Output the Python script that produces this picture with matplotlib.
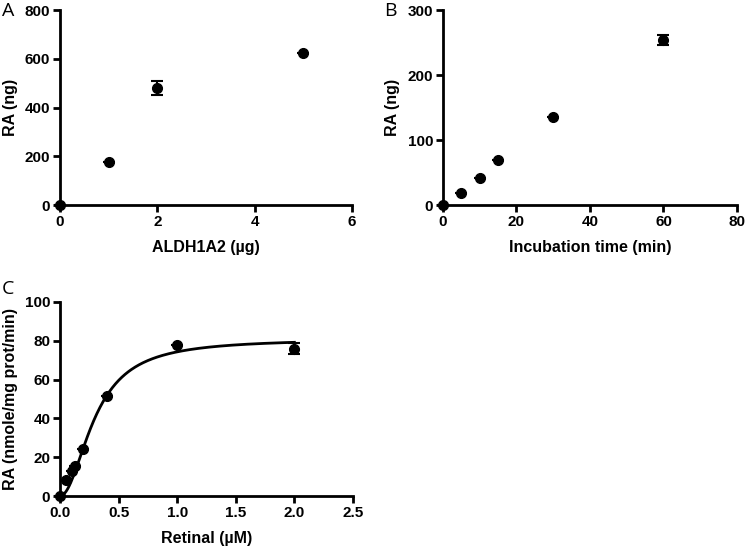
import matplotlib.pyplot as plt
import numpy as np

plt.rcParams['font.family'] = ['Liberation Sans', 'DejaVu Sans']
plt.rcParams['font.weight'] = 'bold'

# panel A
enzyme_ug = [0, 1, 2, 5]
ra_enzyme = [0, 178, 480, 623]
ra_enzyme_err = [0, 0, 30, 0]

# panel B
time_min = [0, 5, 10, 15, 30, 60]
ra_time = [0, 19, 41, 69, 136, 254]
ra_time_err = [0, 0, 0, 0, 0, 8]

# panel C
retinal_uM = [0, 0.05, 0.1, 0.125, 0.2, 0.4, 1.0, 2.0]
ra_rate = [0, 8, 13, 15.5, 24, 51.5, 78, 76]
ra_rate_err = [0, 0, 0, 0, 0, 0, 0, 3]
# Hill fit parameters
vmax, k_half, hill_n = 81, 0.3, 2.0


def style(ax, xlim, ylim, xticks, yticks, xlabel, ylabel, ylab_x, xfmt=None):
    ax.set_xlim(*xlim)
    ax.set_ylim(*ylim)
    ax.set_xticks(xticks)
    ax.set_yticks(yticks)
    if xfmt:
        ax.set_xticklabels([xfmt.format(t) for t in xticks])
    for s in ['top', 'right']:
        ax.spines[s].set_visible(False)
    for s in ['left', 'bottom']:
        ax.spines[s].set_linewidth(2)
    ax.tick_params(width=2, length=5, labelsize=11, pad=2)
    ax.set_xlabel(xlabel, fontsize=11.5, fontweight='bold', labelpad=8)
    ax.set_ylabel(ylabel, fontsize=11.5, fontweight='bold')
    ax.yaxis.set_label_coords(ylab_x, 0.5)


fig = plt.figure(figsize=(7.45, 5.47), dpi=100)

axA = fig.add_axes([0.0805, 0.6252, 0.392, 0.3565])
axA.errorbar(enzyme_ug, ra_enzyme, yerr=ra_enzyme_err, fmt='o', color='black',
             ms=7, capsize=4, elinewidth=1.5, capthick=1.5, clip_on=False, zorder=5)
style(axA, (0, 6), (0, 800), [0, 2, 4, 6], [0, 200, 400, 600, 800],
      'ALDH1A2 (µg)', 'RA (ng)', -0.145)

axB = fig.add_axes([0.5946, 0.6252, 0.3946, 0.3565])
axB.errorbar(time_min, ra_time, yerr=ra_time_err, fmt='o', color='black',
             ms=7, capsize=4, elinewidth=1.5, capthick=1.5, clip_on=False, zorder=5)
style(axB, (0, 80), (0, 300), [0, 20, 40, 60, 80], [0, 100, 200, 300],
      'Incubation time (min)', 'RA (ng)', -0.145)

axC = fig.add_axes([0.0805, 0.0932, 0.3933, 0.3547])
xs = np.linspace(0, 2.0, 300)
axC.plot(xs, vmax * xs**hill_n / (k_half**hill_n + xs**hill_n), color='black', lw=2)
axC.errorbar(retinal_uM, ra_rate, yerr=ra_rate_err, fmt='o', color='black',
             ms=7, capsize=4, elinewidth=1.5, capthick=1.5, clip_on=False, zorder=5)
style(axC, (0, 2.5), (0, 100), [0, 0.5, 1.0, 1.5, 2.0, 2.5], [0, 20, 40, 60, 80, 100],
      'Retinal (µM)', 'RA (nmole/mg prot/min)', -0.143, xfmt='{:.1f}')

for lab, x, y in [('A', 0.003, 0.997), ('B', 0.516, 0.997), ('C', 0.003, 0.488)]:
    fig.text(x, y, lab, fontsize=14, fontweight='normal', family='Open Sans',
             va='top', ha='left')

plt.savefig('out.png', dpi=100)
plt.close()
